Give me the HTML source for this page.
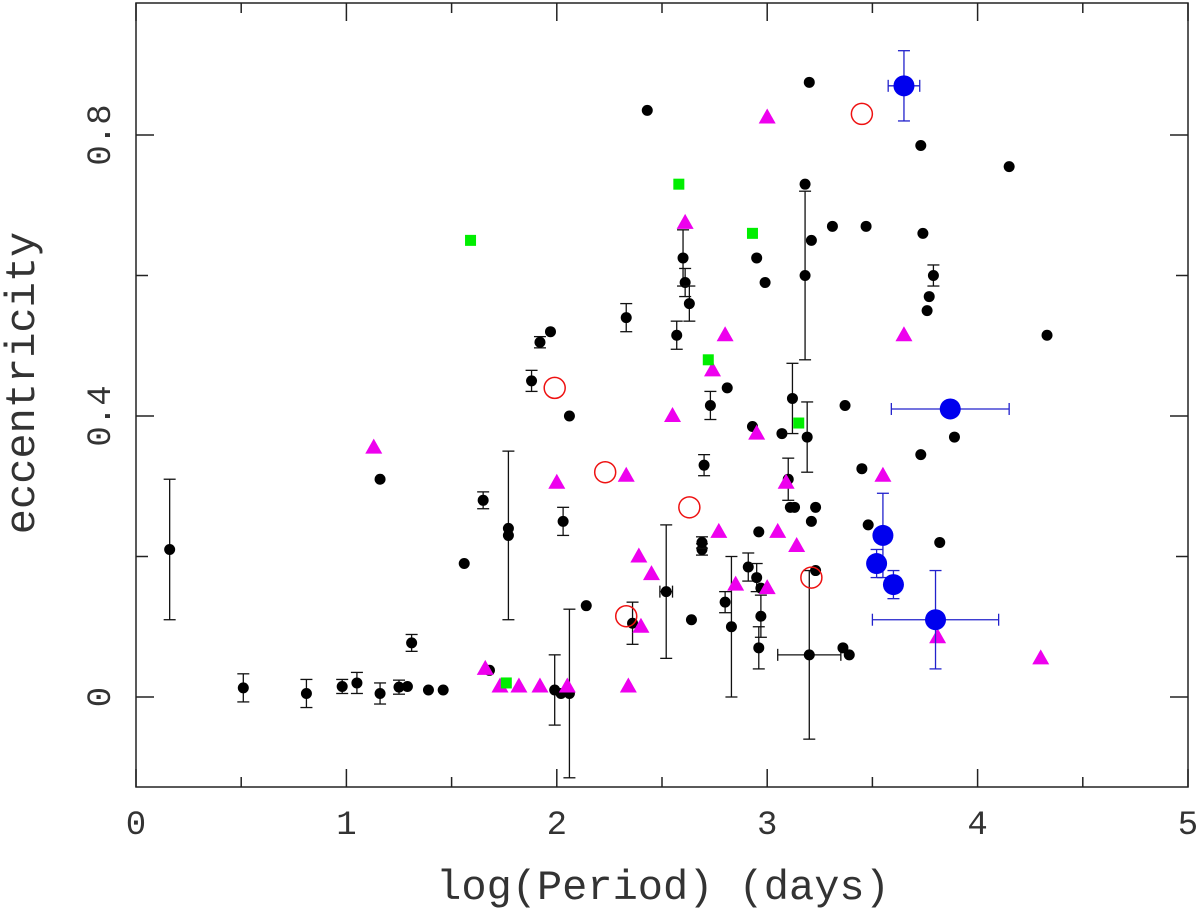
<!DOCTYPE html>
<html><head><meta charset="utf-8"><style>
body{margin:0;background:#fff;width:1200px;height:912px;overflow:hidden}
svg text{font-family:"Liberation Mono",monospace;fill:#333}
</style></head><body>
<svg id="chart" width="1200" height="912" viewBox="0 0 1200 912" xmlns="http://www.w3.org/2000/svg">
<rect x="136" y="3" width="1052" height="784" fill="none" stroke="#222" stroke-width="1.5"/>
<g id="axes"></g><g id="marks"></g>
<text x="663" y="899" text-anchor="middle" font-size="42">log(Period) (days)</text>
<text transform="translate(34,383) rotate(-90)" text-anchor="middle" font-size="42">eccentricity</text>
</svg>
<script>
// data
const blackX=[0.16,0.51,0.81,0.98,1.05,1.16,1.16,1.25,1.29,1.31,1.39,1.46,1.56,1.65,1.68,1.77,1.77,1.88,1.92,1.97,1.99,2.02,2.03,2.06,2.06,2.14,2.33,2.36,2.43,2.52,2.57,2.6,2.61,2.63,2.64,2.69,2.69,2.7,2.73,2.8,2.81,2.83,2.91,2.93,2.95,2.95,2.96,2.97,2.97,2.96,2.99,3.07,3.1,3.11,3.13,3.12,3.18,3.18,3.19,3.2,3.2,3.21,3.21,3.23,3.23,3.31,3.37,3.36,3.39,3.45,3.47,3.48,3.73,3.74,3.73,3.76,3.77,3.79,3.82,3.89,4.15,4.33];
const blackY=[0.21,0.013,0.005,0.015,0.02,0.005,0.31,0.014,0.015,0.077,0.01,0.01,0.19,0.28,0.038,0.23,0.24,0.45,0.505,0.52,0.01,0.005,0.25,0.40,0.005,0.13,0.54,0.105,0.835,0.15,0.515,0.625,0.59,0.56,0.11,0.21,0.22,0.33,0.415,0.135,0.44,0.10,0.185,0.385,0.625,0.17,0.07,0.155,0.115,0.235,0.59,0.375,0.31,0.27,0.27,0.425,0.60,0.73,0.37,0.06,0.875,0.25,0.65,0.18,0.27,0.67,0.415,0.07,0.06,0.325,0.67,0.245,0.345,0.66,0.785,0.55,0.57,0.60,0.22,0.37,0.755,0.515];
const blackYErr=[0.1,0.02,0.02,0.01,0.015,0.015,0,0.01,0,0.012,0,0,0,0.012,0,0.12,0,0.015,0.008,0,0.05,0,0.02,0,0.12,0,0.02,0.03,0,0.095,0.02,0.04,0.02,0.025,0,0.008,0.008,0.015,0.02,0.015,0,0.1,0.02,0,0,0.02,0.03,0,0.03,0,0,0,0.03,0,0,0.05,0.12,0,0.05,0.12,0,0,0,0,0,0,0,0,0,0,0,0,0,0,0,0,0,0.015,0,0,0,0];
const blackXErr=new Array(82).fill(0);blackXErr[59]=0.15;blackXErr[29]=0.03;
const triX=[1.13,1.66,1.73,1.82,1.92,2.0,2.05,2.33,2.34,2.39,2.4,2.45,2.55,2.61,2.74,2.77,2.8,2.85,2.95,3.0,3.0,3.05,3.09,3.14,3.55,3.65,3.81,4.3];
const triY=[0.355,0.04,0.015,0.015,0.015,0.305,0.015,0.315,0.015,0.2,0.1,0.175,0.4,0.675,0.465,0.235,0.515,0.16,0.375,0.155,0.825,0.235,0.305,0.215,0.315,0.515,0.085,0.055];
const sqX=[1.59,1.76,2.58,2.72,2.93,3.15];
const sqY=[0.65,0.02,0.73,0.48,0.66,0.39];
const ringX=[1.99,2.23,2.63,2.33,3.21,3.45];
const ringY=[0.44,0.32,0.27,0.115,0.17,0.83];
const blueX=[3.65,3.87,3.55,3.52,3.6,3.8];
const blueY=[0.87,0.41,0.23,0.19,0.16,0.11];
const blueYErr=[0.05,0,0.06,0.02,0.02,0.07];
const blueXErr=[0.075,0.28,0,0,0,0.3];
const xTicks=[0,1,2,3,4,5];
const yTicks=[0,0.4,0.8];
const yTickLabels=["0","0.4","0.8"];
const NS="http://www.w3.org/2000/svg";
const sx=v=>136+v*210.4, sy=v=>697-v*702.5;
const ax=document.getElementById('axes'), mk=document.getElementById('marks');
function el(t,a,p){const e=document.createElementNS(NS,t);for(const k in a)e.setAttribute(k,a[k]);p.appendChild(e);return e;}
for(let v=0;v<=5;v+=0.5){const major=Number.isInteger(v);const L=major?18:10;
 const t1=el('line',{x1:sx(v),x2:sx(v),y1:787,y2:787-L,stroke:'#222','stroke-width':1.5},ax);
 
 const t2=el('line',{x1:sx(v),x2:sx(v),y1:3,y2:3+L,stroke:'#222','stroke-width':1.5},ax);
 }
xTicks.forEach(v=>{const t=el('text',{x:sx(v),y:834,'text-anchor':'middle','font-size':34},ax);t.textContent=v;
 });
for(let v=-0.1;v<=0.95;v+=0.1){const r=Math.round(v*10)/10;const major=[0,0.4,0.8].includes(r);const L=major?18:(Math.abs(r*10)%2===0?12:0);if(!L)continue;
 const t1=el('line',{x1:136,x2:136+L,y1:sy(r),y2:sy(r),stroke:'#222','stroke-width':1.5},ax);
 
 const t2=el('line',{x1:1188,x2:1188-L,y1:sy(r),y2:sy(r),stroke:'#222','stroke-width':1.5},ax);
 }
yTicks.forEach((v,i)=>{const t=el('text',{transform:`translate(110,${sy(v)}) rotate(-90)`,'text-anchor':'middle','font-size':34},ax);t.textContent=yTickLabels[i];
 });
function err(x,y,xe,ye,c){
 if(ye){el('line',{x1:sx(x),x2:sx(x),y1:sy(y-ye),y2:sy(y+ye),stroke:c,'stroke-width':1.3},mk);
  [y-ye,y+ye].forEach(v=>el('line',{x1:sx(x)-6,x2:sx(x)+6,y1:sy(v),y2:sy(v),stroke:c,'stroke-width':1.3},mk));}
 if(xe){el('line',{x1:sx(x-xe),x2:sx(x+xe),y1:sy(y),y2:sy(y),stroke:c,'stroke-width':1.3},mk);
  [x-xe,x+xe].forEach(v=>el('line',{x1:sx(v),x2:sx(v),y1:sy(y)-6,y2:sy(y)+6,stroke:c,'stroke-width':1.3},mk));}
}
blackX.forEach((x,i)=>{err(x,blackY[i],blackXErr[i],blackYErr[i],'#111');
 const c=el('circle',{cx:sx(x),cy:sy(blackY[i]),r:5.5,fill:'#000'},mk);
 });
triX.forEach((x,i)=>{const X=sx(x),Y=sy(triY[i]);
 const p=el('polygon',{points:`${X},${Y-9} ${X-8.5},${Y+6} ${X+8.5},${Y+6}`,fill:'#ee00ee'},mk);
 });
sqX.forEach((x,i)=>{const r=el('rect',{x:sx(x)-5.5,y:sy(sqY[i])-5.5,width:11,height:11,fill:'#00ee00'},mk);
 });
ringX.forEach((x,i)=>{const c=el('circle',{cx:sx(x),cy:sy(ringY[i]),r:10.5,fill:'none',stroke:'#ee1111','stroke-width':1.5},mk);
 });
blueX.forEach((x,i)=>{err(x,blueY[i],blueXErr[i],blueYErr[i],'#2222cc');
 const c=el('circle',{cx:sx(x),cy:sy(blueY[i]),r:10.5,fill:'#0000ee'},mk);
 });
</script>
</body></html>
